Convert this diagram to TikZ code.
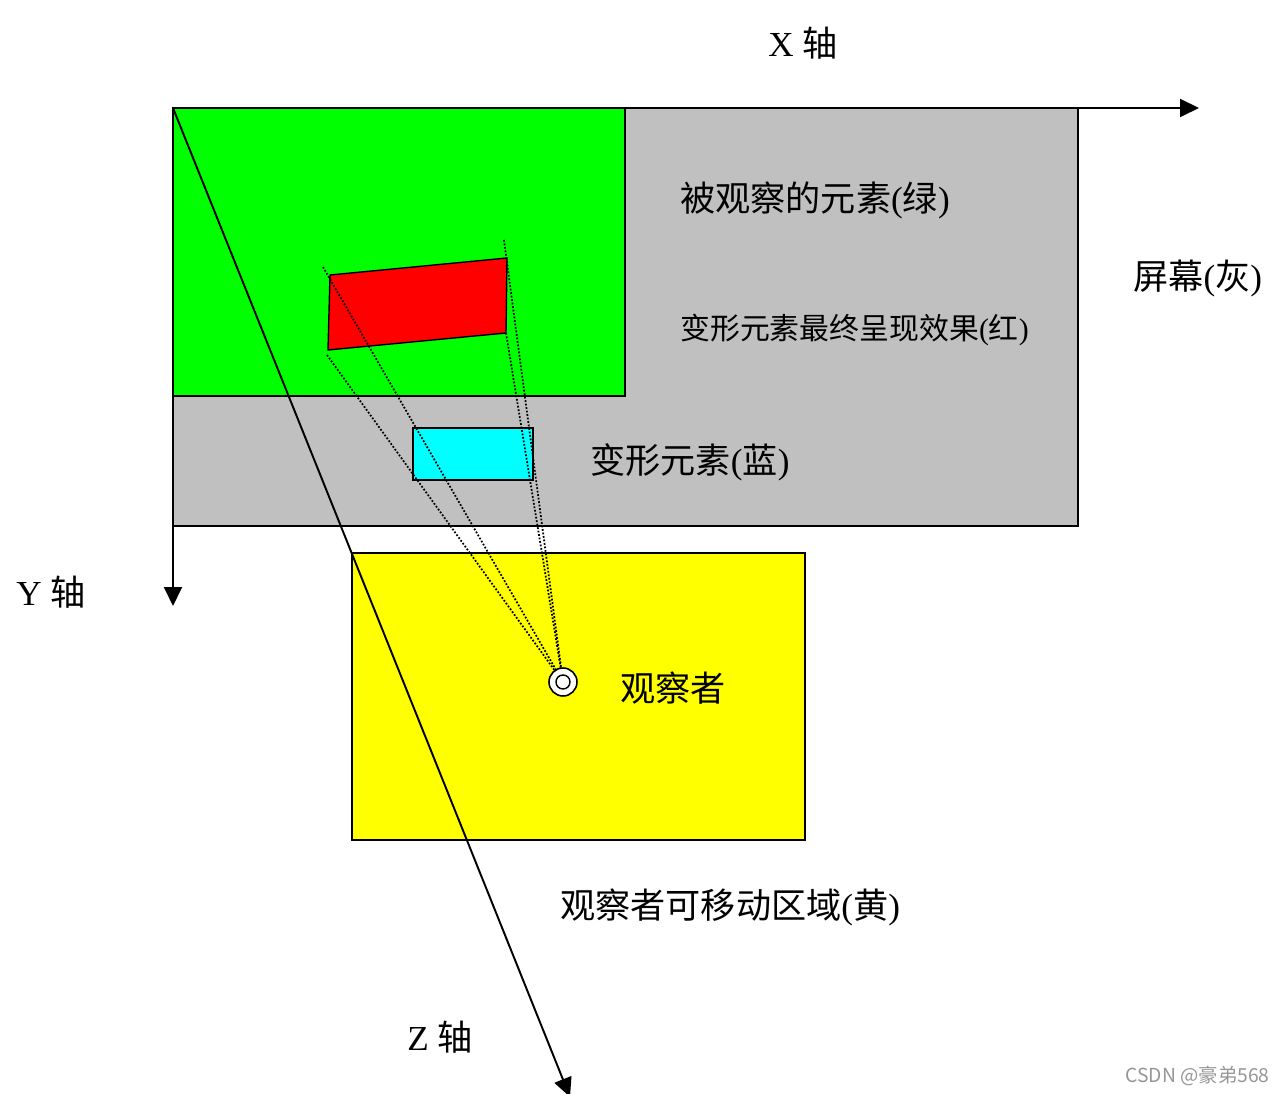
\documentclass[tikz,border=0pt]{standalone}
\usepackage{fontspec}
\setmainfont{Liberation Serif}
\newfontfamily\cjk{Noto Sans CJK SC}
\usetikzlibrary{arrows.meta, positioning}

\definecolor{screengray}{RGB}{192,192,192}
\definecolor{elemgreen}{RGB}{0,255,0}
\definecolor{elemcyan}{RGB}{0,255,255}
\definecolor{zoneyellow}{RGB}{255,255,0}
\definecolor{markgray}{RGB}{150,150,150}

\tikzset{
  area/.style={draw=black, line width=0.8pt},
  axis/.style={line width=1.1pt, -{Triangle[length=0.38cm, width=0.36cm]}},
  sight/.style={densely dotted, line width=1pt},
  lbl/.style={inner sep=0pt, font=\fontsize{20}{24}\selectfont}
}

\begin{document}
\begin{tikzpicture}[x=0.02cm, y=-0.02cm]
  \useasboundingbox (0,0) rectangle (1286,1094);

  % Areas
  \fill[screengray, area] (173,108) rectangle (1078,526);
  \fill[elemgreen, area] (173,108) rectangle (625,396);
  \fill[red, area] (330,275) -- (507,258) -- (506,333) -- (328,350) -- cycle;
  \fill[elemcyan, area] (413,428) rectangle (533,480);
  \fill[zoneyellow, area] (352,553) rectangle (805,840);

  % Axes
  \coordinate (O) at (173,108);
  \coordinate (xend) at (1199,108);
  \coordinate (yend) at (173,606);
  \coordinate (zend) at (570,1097);
  \draw[axis] (O) -- (xend);
  \draw[axis] (O) -- (yend);
  \draw[axis] (O) -- (zend);

  % Lines of sight
  \coordinate (eye) at (563,682);
  \coordinate (tl) at (323,267);
  \coordinate (tr) at (504,240);
  \coordinate (bl) at (327,355);
  \coordinate (br) at (506,333);
  \foreach \p in {tl, tr, bl, br}
    \draw[sight] (\p) -- (eye);

  % Observer
  \node[circle, draw, fill=white, line width=0.9pt, minimum size=0.56cm, inner sep=0pt] (obs) at (eye) {};
  \node[circle, draw, line width=0.8pt, minimum size=0.28cm, inner sep=0pt] (obsin) at (eye) {};

  % Labels
  \node[lbl] (xlab) at (803,43) {X {\cjk 轴}};
  \node[lbl] (ylab) at (51,592) {Y {\cjk 轴}};
  \node[lbl] (zlab) at (440,1037) {Z {\cjk 轴}};
  \node[lbl, anchor=west] (green) at (680,200) {{\cjk 被观察的元素}({\cjk 绿})};
  \node[lbl, anchor=west] (screen) at (1133,278) {{\cjk 屏幕}({\cjk 灰})};
  \node[lbl, anchor=west, font=\fontsize{17}{20}\selectfont] (final) at (680,330) {{\cjk 变形元素最终呈现效果}({\cjk 红})};
  \node[lbl, anchor=west] (blue) at (590,462) {{\cjk 变形元素}({\cjk 蓝})};
  \node[lbl, anchor=west] (viewer) at (620,688) {\cjk 观察者};
  \node[lbl, anchor=west] (zone) at (560,907) {{\cjk 观察者可移动区域}({\cjk 黄})};
  \node[inner sep=0pt, anchor=east, text=markgray, font=\cjk\fontsize{11}{13}\selectfont] (mark) at (1270,1076) {CSDN @豪弟568};

\end{tikzpicture}
\end{document}
